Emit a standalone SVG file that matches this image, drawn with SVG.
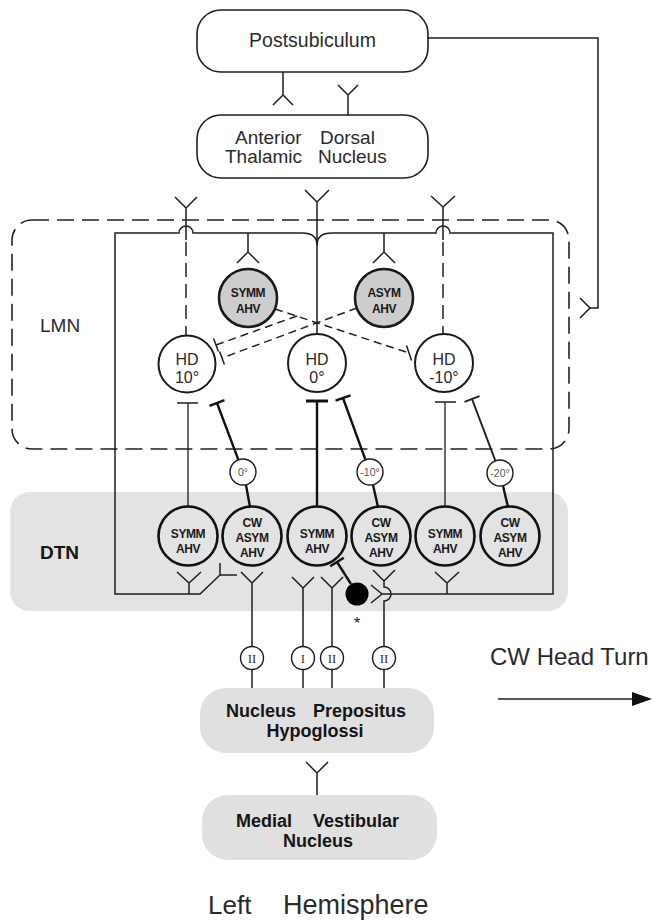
<svg xmlns="http://www.w3.org/2000/svg" width="652" height="921" viewBox="0 0 652 921">
<style>
.t{font-family:"Liberation Sans",Arial,Helvetica,sans-serif;fill:#2b2b2b}
.m{text-anchor:middle}
.b{font-weight:bold;fill:#151515}
.cell{font-family:"Liberation Sans",Arial,sans-serif;font-weight:bold;font-size:12px;letter-spacing:-0.4px;text-anchor:middle;fill:#1a1a1a}
.rom{font-family:"Liberation Serif","Times New Roman",serif;font-size:13px;text-anchor:middle;fill:#333}
.ang{font-family:"Liberation Sans",Arial,sans-serif;font-size:10.5px;text-anchor:middle;fill:#555}
.ln{stroke:#1e1e1e;stroke-width:1.5;fill:none}
.lt{stroke:#1e1e1e;stroke-width:1.3;fill:none}
.tk{stroke:#111;stroke-width:2.4;fill:none}
.tk3{stroke:#111;stroke-width:3;fill:none}
.ds{stroke:#222;stroke-width:1.5;stroke-dasharray:8 5;fill:none}
.dv{stroke:#222;stroke-width:1.5;stroke-dasharray:14 7;fill:none}
.box{fill:#fff;stroke:#1e1e1e;stroke-width:1.6}
.gbox{fill:#e0e0e0;stroke:none}
.hd{fill:#fff;stroke:#1a1a1a;stroke-width:2}
.gc{fill:#cdcdcd;stroke:#1a1a1a;stroke-width:2.6}
.dc{fill:none;stroke:#111;stroke-width:2.6}
.sc{fill:#fff;stroke:#1a1a1a;stroke-width:1.4}
</style>
<rect width="652" height="921" fill="#fff"/>

<g id="dtn-region">
<rect x="10" y="492" width="558" height="119" rx="20" fill="#e3e3e3"/>
<text class="t b" x="40" y="559" font-size="19">DTN</text>
</g>

<g id="lmn-region">
<rect x="12" y="220" width="557" height="229" rx="20" fill="none" stroke="#222" stroke-width="1.6" stroke-dasharray="17 8"/>
<text class="t" x="40" y="332" font-size="19">LMN</text>
</g>

<g id="postsubiculum">
<rect class="box" x="197" y="10" width="231" height="62" rx="24"/>
<text class="t m" x="312.5" y="47" font-size="19.5">Postsubiculum</text>
</g>

<g id="adn">
<rect class="box" x="197" y="115" width="231" height="63" rx="24"/>
<text class="t" x="235" y="144" font-size="19">Anterior</text>
<text class="t" x="320" y="144" font-size="19">Dorsal</text>
<text class="t" x="225" y="163" font-size="19">Thalamic</text>
<text class="t" x="318" y="163" font-size="19">Nucleus</text>
</g>

<g id="nph">
<rect class="gbox" x="200" y="688" width="234" height="65" rx="26"/>
<text class="t b" x="226" y="717" font-size="18">Nucleus</text>
<text class="t b" x="313" y="717" font-size="18">Prepositus</text>
<text class="t b m" x="315" y="737" font-size="18">Hypoglossi</text>
</g>

<g id="mvn">
<rect class="gbox" x="202" y="795" width="235" height="65" rx="26"/>
<text class="t b" x="236" y="827" font-size="18">Medial</text>
<text class="t b" x="313" y="827" font-size="18">Vestibular</text>
<text class="t b m" x="318" y="847" font-size="18">Nucleus</text>
</g>

<g id="connectors">
<path class="ln" d="M283,72 V95 M273,105 L283,95 L293,105"/>
<path class="ln" d="M348,115 V95 M338,85 L348,95 L358,85"/>
<path class="ln" d="M428,38 H598 V308 H590 M580,298 L590,308 L580,318"/>
<path class="ln" d="M175,197 L186,208 L197,197 M186,208 V240"/>
<path class="dv" d="M186,242 V336"/>
<path class="ln" d="M305,190 L317,202 L329,190 M317,202 V334"/>
<path class="ln" d="M431,196 L443,207 L455,196 M443,207 V240"/>
<path class="dv" d="M443,242 V334"/>
<path class="ln" d="M317,245 Q317,233 302,233 H193 A7,7 0 0 0 179,233 H115 V594 H200 L220,575 M220,563 V575 H237"/>
<path class="ln" d="M317,245 Q317,233 332,233 H436 A7,7 0 0 1 450,233 H553 V594 H382 M371,585 L382,594 L371,603"/>
<path class="ln" d="M248,233 V252 M237,263 L248,252 L259,263"/>
<path class="ln" d="M384,233 V252 M373,263 L384,252 L395,263"/>
<path class="ln" d="M177,572 L189,583 L201,572 M189,583 V594"/>
<path class="ln" d="M435,572 L447,583 L459,572 M447,583 V594"/>
<path class="ds" d="M275,309 L409,353"/>
<path class="ln" d="M406.5,345.4 L411.5,360.6"/>
<path class="ds" d="M297,316 L216,345"/>
<path class="ln" d="M213.6,338.4 L218.4,351.6"/>
<path class="ds" d="M357,308 L222,358"/>
<path class="ln" d="M219.6,351.4 L224.4,364.6"/>
<path class="lt" d="M177,403 H198 M188,403 V506"/>
<path class="tk" d="M238.4,459.8 L217,403 M209.5,405.8 L224.5,400.2"/>
<path class="tk" d="M246,485 L250,507"/>
<path class="tk3" d="M306,401 H328"/>
<path class="tk" d="M317,401 V506"/>
<path class="tk" d="M365.5,459.8 L343,398 M335.5,400.7 L350.5,395.3"/>
<path class="tk" d="M373,485 L378,507"/>
<path class="lt" d="M435,402 H456 M445,402 V506"/>
<path class="ln" style="stroke-width:1.9" d="M495.4,460.8 L472,399 M464.5,401.8 L479.5,396.2"/>
<path class="tk" d="M503,486 L508,507"/>
<path class="tk" d="M351,584 L337,562 M330.2,566.2 L343.8,557.8"/>
<path class="ln" d="M241,572 L252,583 L263,572 M252,583 V646.5 M252,669.5 V688"/>
<path class="ln" d="M292,577 L303,588 L314,577 M303,588 V646.5 M303,669.5 V688"/>
<path class="ln" d="M321,577 L332,588 L343,577 M332,588 V646.5 M332,669.5 V688"/>
<path class="ln" d="M373,570 L384,581 L395,570 M384,581 V587 A7,7 0 0 1 384,601 V646.5 M384,669.5 V688"/>
<path class="ln" d="M306,762 L317,773 L328,762 M317,773 V795"/>
<path class="ln" d="M498,699 H634"/>
<polygon points="632,692 652,699 632,706" fill="#111"/>
</g>

<g id="lmn-symm-ahv">
<circle class="gc" cx="248" cy="298" r="29"/>
<text class="cell" x="248" y="297" font-size="11">SYMM</text>
<text class="cell" x="248" y="313" font-size="11">AHV</text>
</g>
<g id="lmn-asym-ahv">
<circle class="gc" cx="384" cy="298" r="29"/>
<text class="cell" x="384" y="297" font-size="11">ASYM</text>
<text class="cell" x="384" y="313" font-size="11">AHV</text>
</g>

<g id="hd10">
<circle class="hd" cx="187" cy="364" r="28.5"/>
<text class="t m" x="187" y="365" font-size="16" fill="#444">HD</text>
<text class="t m" x="187" y="383" font-size="16" fill="#444">10°</text>
</g>
<g id="hd0">
<circle class="hd" cx="317" cy="363" r="29"/>
<text class="t m" x="317" y="365" font-size="16" fill="#444">HD</text>
<text class="t m" x="317" y="383" font-size="16" fill="#444">0°</text>
</g>
<g id="hdm10">
<circle class="hd" cx="444" cy="363" r="29"/>
<text class="t m" x="444" y="365" font-size="16" fill="#444">HD</text>
<text class="t m" x="444" y="383" font-size="16" fill="#444">-10°</text>
</g>

<g id="ang0">
<circle class="sc" cx="243" cy="472" r="13"/>
<text class="ang" x="243" y="476">0°</text>
</g>
<g id="angm10">
<circle class="sc" cx="370" cy="472" r="13"/>
<text class="ang" x="370" y="476">-10°</text>
</g>
<g id="angm20">
<circle class="sc" cx="500" cy="473" r="13"/>
<text class="ang" x="500" y="477">-20°</text>
</g>

<g id="dtn-symm1">
<circle class="dc" cx="188" cy="536" r="29.5"/>
<text class="cell" x="188" y="538">SYMM</text>
<text class="cell" x="188" y="553">AHV</text>
</g>
<g id="dtn-cw1">
<circle class="dc" cx="252" cy="536" r="29.5"/>
<text class="cell" x="252" y="527">CW</text>
<text class="cell" x="252" y="542">ASYM</text>
<text class="cell" x="252" y="557">AHV</text>
</g>
<g id="dtn-symm2">
<circle class="dc" cx="317" cy="536" r="29.5"/>
<text class="cell" x="317" y="538">SYMM</text>
<text class="cell" x="317" y="553">AHV</text>
</g>
<g id="dtn-cw2">
<circle class="dc" cx="381" cy="536" r="29.5"/>
<text class="cell" x="381" y="527">CW</text>
<text class="cell" x="381" y="542">ASYM</text>
<text class="cell" x="381" y="557">AHV</text>
</g>
<g id="dtn-symm3">
<circle class="dc" cx="445" cy="536" r="29.5"/>
<text class="cell" x="445" y="538">SYMM</text>
<text class="cell" x="445" y="553">AHV</text>
</g>
<g id="dtn-cw3">
<circle class="dc" cx="510" cy="536" r="29.5"/>
<text class="cell" x="510" y="527">CW</text>
<text class="cell" x="510" y="542">ASYM</text>
<text class="cell" x="510" y="557">AHV</text>
</g>

<g id="black-cell">
<circle cx="357" cy="594" r="11.5" fill="#000"/>
<text class="t m" x="357" y="629" font-size="17">*</text>
</g>

<g id="type-markers">
<circle class="sc" cx="252" cy="658" r="11.5"/>
<text class="rom" x="252" y="663">II</text>
<circle class="sc" cx="303" cy="658" r="11.5"/>
<text class="rom" x="303" y="663">I</text>
<circle class="sc" cx="332" cy="658" r="11.5"/>
<text class="rom" x="332" y="663">II</text>
<circle class="sc" cx="384" cy="658" r="11.5"/>
<text class="rom" x="384" y="663">II</text>
</g>

<g id="labels">
<text class="t" x="490" y="665" font-size="24" fill="#222">CW Head Turn</text>
<text class="t" x="208" y="914" font-size="26" fill="#222">Left</text>
<text class="t" x="283" y="914" font-size="27" fill="#222">Hemisphere</text>
</g>
</svg>
